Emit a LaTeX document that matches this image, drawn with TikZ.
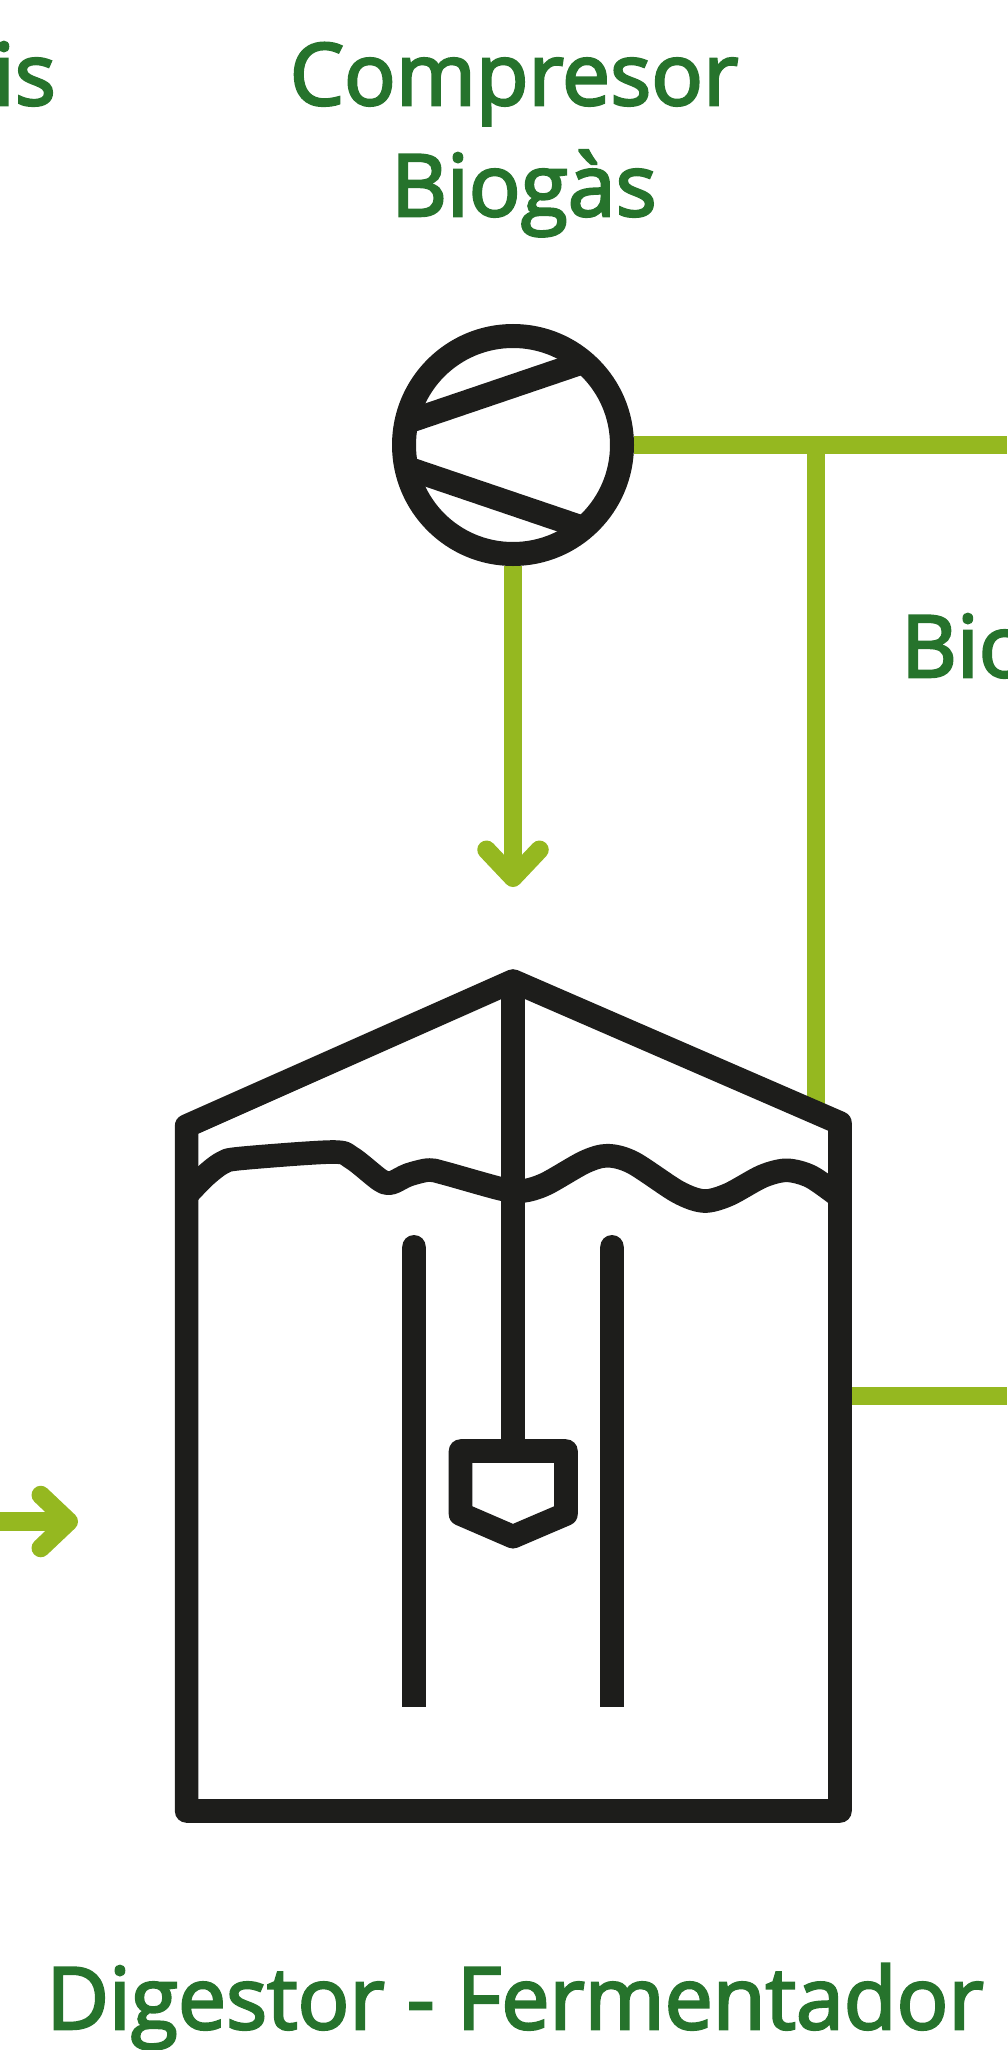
\documentclass[tikz,border=0pt]{standalone}
\usepackage{fontspec}
\setmainfont{Open Sans}[FakeBold=2.9]
\usetikzlibrary{arrows.meta}
\definecolor{biolabelgreen}{RGB}{38,115,44}
\definecolor{biopipegreen}{RGB}{149,184,32}
\definecolor{biotankblack}{RGB}{29,29,27}

\begin{document}
\begin{tikzpicture}[x=1pt,y=-1pt,
  every node/.style={font=\fontsize{86}{100}\selectfont,inner sep=0pt,text=biolabelgreen},
  biopipe/.style={biopipegreen,line width=18.5pt},
  biotip/.style={-{Straight Barb[length=28pt,width=53pt,round]}},
  biotank/.style={biotankblack,line width=23.6pt,line join=round},
  biobaffle/.style={biotank,{Round Cap[]}-}]
\useasboundingbox (0,0) rectangle (1007,2050);
\node[anchor=base east] (lblleft) at (56,105) {is};
\node[anchor=base] (lblcompa) at (514,105) {Compresor};
\node[anchor=base] (lblcompb) at (524,216) {Biogàs};
\node[anchor=base west] (lblright) at (901,677) {Bio};
\node[anchor=base] (lbldigest) at (515,2029) {Digestor - Fermentador};
\node[circle,minimum size=218pt,line width=24pt] (comp) at (513,445) {};
\coordinate (apex) at (513,981);
\coordinate (roofr) at (840,1123);
\coordinate (roofl) at (186.6,1126);
\coordinate (botr) at (840,1811);
\coordinate (botl) at (186.6,1811);
\coordinate (outtop) at (1007,445);
\coordinate (branch) at (816,445);
\coordinate (branchend) at (816,1112);
\coordinate (digin) at (513,887);
\coordinate (feedin) at (0,1521.5);
\coordinate (feedtip) at (78,1521.5);
\coordinate (outlow) at (1007,1396);
\coordinate (outlowin) at (840,1396);
\draw[biopipe] (comp.east) -- (outtop);
\draw[biopipe] (branch) -- (branchend);
\draw[biopipe,biotip] (comp.south) -- (digin);
\draw[biopipe,biotip] (feedin) -- (feedtip);
\draw[biopipe] (outlowin) -- (outlow);
\node[circle,draw=biotankblack,minimum size=218pt,line width=24pt] at (comp) {};
\draw[biotank] (406,422.4) -- (588,360.6);
\draw[biotank] (406,467.6) -- (588,529.4);
\draw[biotank] (roofl) -- (apex) -- (roofr) -- (botr) -- (botl) -- cycle;
\draw[biotank] (apex) -- (513,1451);
\draw[biotank] (460.5,1451) -- (566,1451) -- (566,1514) -- (513,1536.7) -- (460.5,1514) -- cycle;
\draw[biobaffle] (414,1235) -- (414,1706.7);
\draw[biobaffle] (612,1235) -- (612,1706.7);
\draw[biotank] plot[smooth,tension=.5] coordinates {(187.5,1194) (205,1176) (222,1163) (240,1158.5) (332,1152) (352,1158)
  (380,1180) (391,1183) (408,1175) (428.6,1170) (444,1173) (501.6,1189) (522.7,1191) (545.7,1184)
  (584.7,1162) (607.7,1155.7) (633,1162.7) (678,1192) (704,1201) (728.4,1194.7) (762.4,1176.3)
  (786.7,1170.3) (811,1176.7) (839.5,1196.7)};
\end{tikzpicture}
\end{document}
